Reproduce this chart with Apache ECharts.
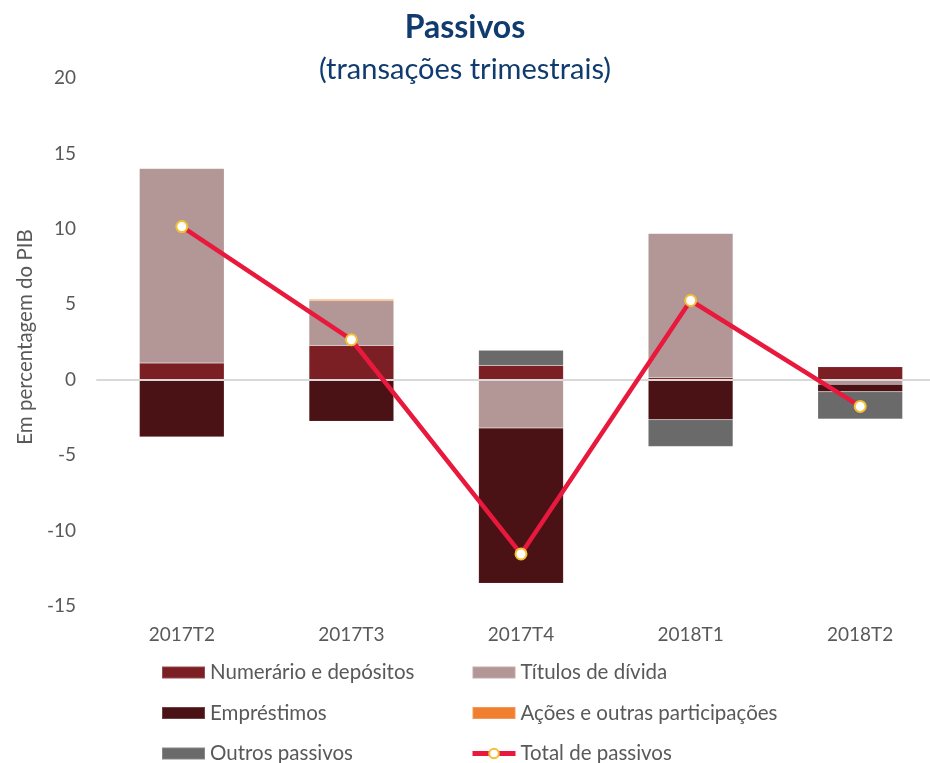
<!DOCTYPE html>
<html>
<head>
<meta charset="utf-8">
<script src="https://cdn.jsdelivr.net/npm/echarts@6/dist/echarts.min.js"></script>
<style>
html,body{margin:0;padding:0;background:#fff;}
#chart{width:930px;height:763px;}
</style>
</head>
<body>
<div id="chart"></div>
<script>
// dados (em percentagem do PIB)
var categorias = ['2017T2', '2017T3', '2017T4', '2018T1', '2018T2'];
var numerario = [1.1, 2.27, 0.95, 0.15, 0.86];
var titulos = [12.9, 2.96, -3.2, 9.55, -0.3];
var emprestimos = [-3.8, -2.75, -10.3, -2.65, -0.5];
var acoes = [0, 0.1, 0, 0, 0];
var outros = [0, 0.02, 1.0, -1.77, -1.8];
var total = [10.15, 2.65, -11.55, 5.25, -1.77];

var corTexto = '#595959';
var fonte = 'Lato, sans-serif';

function barra(nome, dados, cor) {
	return {
		name: nome,
		type: 'bar',
		stack: 'passivos',
		barWidth: '50%',
		data: dados,
		itemStyle: {
			color: cor,
			borderColor: 'rgba(255,255,255,0.2)',
			borderWidth: 0.5
		}
	};
}

var legendaBase = {
	orient: 'vertical',
	top: 662,
	height: 200,
	width: 400,
	padding: 0,
	itemWidth: 43,
	itemHeight: 12,
	itemGap: 19.5,
	textStyle: { color: corTexto, fontSize: 20.5, padding: [0, 0, 0, 0] }
};

var myChart = echarts.init(document.getElementById('chart'));
var option = {
	animation: false,
	textStyle: { fontFamily: fonte },
	title: [{
		text: 'Passivos',
		left: 'center',
		top: 7,
		textStyle: { color: '#0F3B6E', fontSize: 32, fontWeight: 'bold', fontFamily: fonte }
	}, {
		text: '(transações trimestrais)',
		left: 'center',
		top: 50,
		textStyle: { color: '#0F3B6E', fontSize: 29, fontWeight: 'normal', fontFamily: fonte }
	}],
	grid: {
		left: 97,
		right: -15,
		top: 78,
		bottom: 157,
		outerBoundsMode: 'none'
	},
	legend: [
		Object.assign({}, legendaBase, {
			left: 161,
			data: [
				{ name: 'Numerário e depósitos', icon: 'rect' },
				{ name: 'Empréstimos', icon: 'rect' },
				{ name: 'Outros passivos', icon: 'rect' }
			]
		}),
		Object.assign({}, legendaBase, {
			left: 470,
			data: [
				{ name: 'Títulos de dívida', icon: 'rect' },
				{ name: 'Ações e outras participações', icon: 'rect' },
				{ name: 'Total de passivos', lineStyle: { width: 5 } }
			]
		})
	],
	xAxis: {
		type: 'category',
		data: categorias,
		z: 5,
		axisLine: { onZero: true, lineStyle: { color: '#D9D9D9', width: 2 } },
		axisTick: { show: false },
		axisLabel: {
			color: corTexto,
			fontSize: 19,
			margin: 19,
			interval: 0
		}
	},
	yAxis: {
		type: 'value',
		min: -15,
		max: 20,
		interval: 5,
		name: 'Em percentagem do PIB',
		nameLocation: 'middle',
		nameGap: 56,
		nameTextStyle: { color: corTexto, fontSize: 20.5, padding: [0, 0, 0, 10] },
		axisLine: { show: false },
		axisTick: { show: false },
		splitLine: { show: false },
		axisLabel: { color: corTexto, fontSize: 19, margin: 21 }
	},
	series: [
		barra('Numerário e depósitos', numerario, '#7B1F24'),
		barra('Títulos de dívida', titulos, '#B39696'),
		barra('Empréstimos', emprestimos, '#4A1214'),
		barra('Ações e outras participações', acoes, '#F08030'),
		barra('Outros passivos', outros, '#6A6A6A'),
		{
			name: 'Total de passivos',
			type: 'line',
			data: total,
			z: 10,
			symbol: 'circle',
			symbolSize: 11,
			lineStyle: { color: '#E8193C', width: 4.5 },
			itemStyle: { color: '#FFFFFF', borderColor: '#F2C037', borderWidth: 2 }
		}
	]
};
myChart.setOption(option);
</script>
</body>
</html>
